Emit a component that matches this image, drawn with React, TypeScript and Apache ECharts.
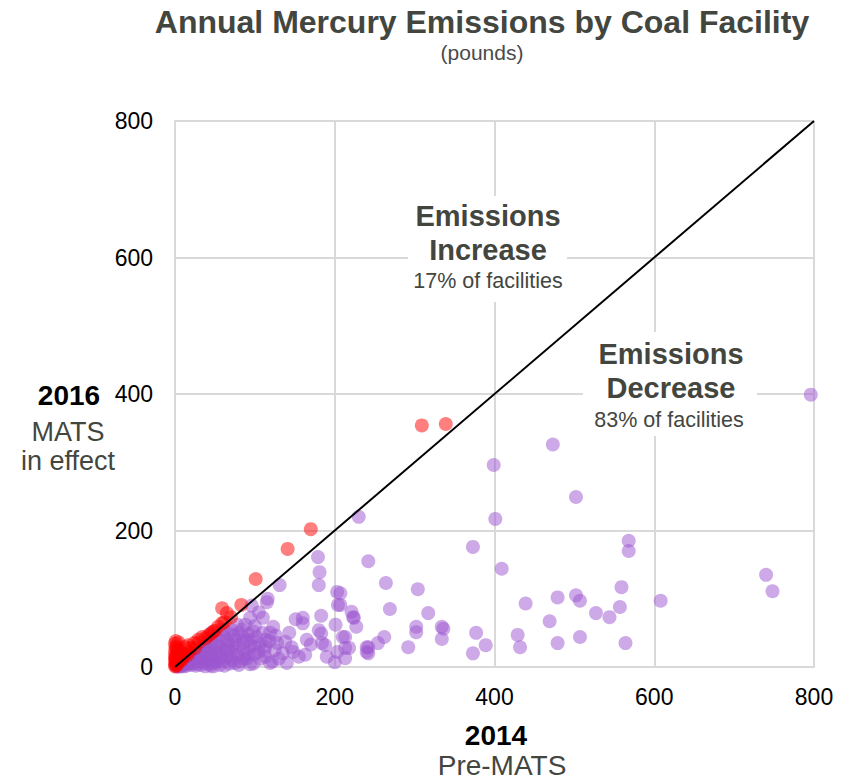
import React, { useEffect, useRef } from "react";
import * as echarts from "echarts";

const TITLE = "Annual Mercury Emissions by Coal Facility";
const SUBTITLE = "(pounds)";
const AXIS_TICKS = [0, 200, 400, 600, 800];

// Facilities whose emissions decreased (2014 -> 2016): [2014, 2016]
const decreasePoints: number[][] = [
  [796, 399], [473, 326], [399, 296], [502, 249], [401, 217], [230, 220], [373, 176], [409, 144],
  [568, 185], [568, 170], [740, 135], [748, 111], [608, 97], [559, 117], [557, 88], [544, 73],
  [527, 79], [564, 35], [507, 97], [502, 105], [479, 102], [507, 44], [479, 35], [469, 67],
  [439, 93], [429, 47], [432, 29], [389, 32], [373, 20], [377, 50], [334, 59], [336, 56],
  [334, 41], [317, 79], [304, 114], [302, 59], [302, 51], [292, 29], [269, 85], [264, 123],
  [242, 155], [262, 44], [254, 35], [242, 29], [242, 20], [227, 59], [223, 73], [221, 81],
  [207, 108], [207, 91], [213, 44], [213, 28], [213, 13], [240, 29], [240, 22],
  [179, 161], [181, 139], [180, 120], [203, 110], [204, 91], [224, 72], [131, 120], [115, 95],
  [110, 72], [123, 59], [119, 50], [151, 70], [160, 72], [160, 64], [183, 75], [180, 54],
  [183, 49], [184, 35], [188, 32], [201, 62], [210, 44], [218, 28], [203, 22], [190, 15],
  [200, 7], [143, 50], [146, 29], [135, 20], [148, 22], [155, 15], [163, 18], [165, 40],
  [170, 33], [138, 37], [125, 25], [113, 40], [113, 30], [113, 15], [119, 6], [116, 100],
  [94, 72], [102, 44], [85, 44], [71, 54],
  [88, 62], [80, 50], [75, 40], [66, 35], [60, 45], [55, 30], [50, 25], [45, 38], [40, 20],
  [38, 30], [35, 15], [30, 22], [28, 10], [25, 18], [22, 8], [20, 14], [18, 5], [15, 10],
  [12, 4], [10, 7], [8, 2], [6, 5], [5, 1], [4, 3], [3, 0.5], [2, 2],
  [95, 30], [92, 20], [90, 12], [85, 25], [82, 8], [78, 18], [76, 28], [72, 10], [70, 22],
  [68, 5], [65, 15], [63, 25], [60, 8], [58, 18], [56, 3], [54, 12], [52, 20], [48, 6],
  [46, 14], [44, 28], [42, 4], [40, 10], [36, 6], [34, 12], [32, 3], [30, 8], [27, 4],
  [24, 12], [20, 3], [17, 6], [14, 2], [11, 1], [9, 3], [7, 1],
  [100, 30], [104, 22], [98, 5], [96, 40], [107, 12], [100, 60], [92, 48], [86, 36], [80, 3],
  [74, 46], [62, 55], [58, 38], [52, 44], [46, 50], [40, 36], [34, 26], [28, 20], [26, 2],
  [18, 11], [13, 7], [48, 1], [62, 2], [75, 6], [88, 18], [110, 50], [122, 8], [130, 12],
  [128, 35], [140, 6], [105, 80], [96, 90],
  [84, 55], [78, 62], [68, 48], [90, 38], [99, 18], [106, 33], [72, 32], [64, 40], [57, 24],
  [49, 33], [43, 18], [37, 24], [31, 16], [23, 6], [16, 9], [86, 12], [94, 4], [70, 14],
  [53, 8], [45, 2], [38, 1], [66, 26], [80, 32], [112, 24], [118, 38], [126, 46], [98, 52],
];

// Facilities whose emissions increased: [2014, 2016]
const increasePoints: number[][] = [
  [309, 354], [339, 356], [170, 202], [141, 173], [101, 129], [83, 91], [59, 86], [65, 79],
  [59, 64], [54, 59], [34, 44], [29, 40], [16, 32], [13, 29], [0, 22], [0, 10], [1, 2],
  [2, 5], [1, 15], [3, 18], [5, 25], [8, 20], [10, 15], [6, 12], [4, 8], [0.5, 28], [2, 30],
  [20, 28], [24, 35], [38, 42], [44, 48], [48, 52], [42, 46], [30, 36], [25, 28], [12, 18],
  [18, 22], [0, 1], [0, 4], [1, 8], [0.5, 12], [3, 3.5], [7, 9], [9, 11], [15, 17], [62, 66],
  [70, 73], [50, 53], [0, 34], [1, 38], [4, 36], [0, 16], [2, 24],
];

// Parity line (no change)
const parityLine: number[][] = [[0, 0], [800, 800]];

const FONT = "'Liberation Sans', Arial, sans-serif";
const DARK = "#43463f";

export default function App() {
  const ref = useRef<HTMLDivElement>(null);

  useEffect(() => {
    if (!ref.current) return;
    const chart = echarts.init(ref.current, null, { renderer: "svg" });
    const axisCommon = {
      type: "value" as const,
      min: AXIS_TICKS[0],
      max: AXIS_TICKS[AXIS_TICKS.length - 1],
      interval: 200,
      axisLine: { show: true, lineStyle: { color: "#d9d9d9", width: 2 } },
      axisTick: { show: false },
      splitLine: { show: true, lineStyle: { color: "#d9d9d9", width: 2 } },
    };
    chart.setOption({
      animation: false,
      textStyle: { fontFamily: FONT },
      grid: { left: 175, top: 121, width: 639, height: 546, containLabel: false },
      xAxis: {
        ...axisCommon,
        axisLabel: { color: "#000", fontSize: 23, margin: 18, fontFamily: FONT },
      },
      yAxis: {
        ...axisCommon,
        axisLabel: { color: "#000", fontSize: 23, margin: 22, fontFamily: FONT },
      },
      series: [
        {
          type: "scatter",
          data: decreasePoints,
          symbolSize: 14,
          itemStyle: { color: "#9b55d0", opacity: 0.5 },
          z: 2,
        },
        {
          type: "scatter",
          data: increasePoints,
          symbolSize: 14,
          itemStyle: { color: "#ff0000", opacity: 0.5 },
          z: 3,
        },
        {
          type: "line",
          data: parityLine,
          symbol: "none",
          lineStyle: { color: "#000", width: 2 },
          z: 4,
        },
      ],
      graphic: [
        { type: "text", x: 482, y: 22, style: { text: TITLE, fontSize: 32, fontWeight: "bold", fill: DARK, align: "center", verticalAlign: "middle", fontFamily: FONT } },
        { type: "text", x: 482, y: 52, style: { text: SUBTITLE, fontSize: 21, fill: "#4a4a4a", align: "center", verticalAlign: "middle", fontFamily: FONT } },
        { type: "rect", shape: { x: 408, y: 196, width: 159, height: 106 }, style: { fill: "#fff" }, z: 5 },
        { type: "text", x: 488, y: 216, z: 6, style: { text: "Emissions", fontSize: 29, fontWeight: "bold", fill: DARK, align: "center", verticalAlign: "middle", fontFamily: FONT } },
        { type: "text", x: 488, y: 250, z: 6, style: { text: "Increase", fontSize: 29, fontWeight: "bold", fill: DARK, align: "center", verticalAlign: "middle", fontFamily: FONT } },
        { type: "text", x: 488, y: 281, z: 6, style: { text: "17% of facilities", fontSize: 21.5, fill: DARK, align: "center", verticalAlign: "middle", fontFamily: FONT } },
        { type: "rect", shape: { x: 583, y: 332, width: 174, height: 104 }, style: { fill: "#fff" }, z: 5 },
        { type: "text", x: 671, y: 354, z: 6, style: { text: "Emissions", fontSize: 29, fontWeight: "bold", fill: DARK, align: "center", verticalAlign: "middle", fontFamily: FONT } },
        { type: "text", x: 671, y: 388, z: 6, style: { text: "Decrease", fontSize: 29, fontWeight: "bold", fill: DARK, align: "center", verticalAlign: "middle", fontFamily: FONT } },
        { type: "text", x: 669, y: 420, z: 6, style: { text: "83% of facilities", fontSize: 21.5, fill: DARK, align: "center", verticalAlign: "middle", fontFamily: FONT } },
        { type: "text", x: 496, y: 735, style: { text: "2014", fontSize: 28, fontWeight: "bold", fill: "#000", align: "center", verticalAlign: "middle", fontFamily: FONT } },
        { type: "text", x: 502, y: 765, style: { text: "Pre-MATS", fontSize: 28, fill: DARK, align: "center", verticalAlign: "middle", fontFamily: FONT } },
        { type: "text", x: 69, y: 395, style: { text: "2016", fontSize: 28, fontWeight: "bold", fill: "#000", align: "center", verticalAlign: "middle", fontFamily: FONT } },
        { type: "text", x: 68, y: 432, style: { text: "MATS", fontSize: 27, fill: DARK, align: "center", verticalAlign: "middle", fontFamily: FONT } },
        { type: "text", x: 68, y: 461, style: { text: "in effect", fontSize: 27, fill: DARK, align: "center", verticalAlign: "middle", fontFamily: FONT } },
      ],
    });
    return () => chart.dispose();
  }, []);

  return (
    <div
      ref={ref}
      style={{ position: "absolute", left: 0, top: 0, width: 849, height: 780, background: "#fff" }}
    />
  );
}
